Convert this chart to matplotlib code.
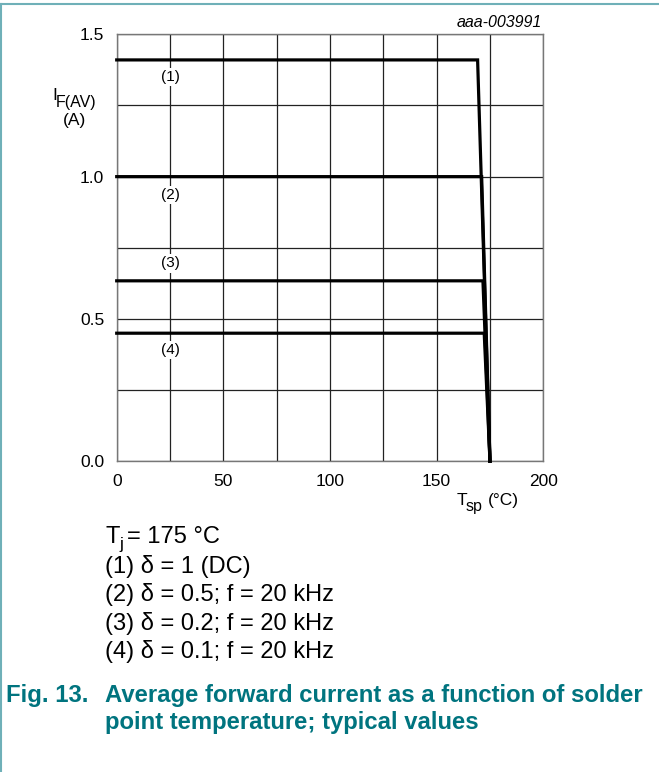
import matplotlib
matplotlib.use("Agg")
import matplotlib.pyplot as plt

# data
curve_ids = ["(1)", "(2)", "(3)", "(4)"]
plateau = [1.41, 1.0, 0.634, 0.45]          # I_F(AV) in A
knee_t = [169.2, 171.1, 171.7, 172.3]       # Tsp where the plateau ends
t_zero = 175.0                              # all curves reach 0 A here
label_y = [1.35, 0.935, 0.695, 0.391]
label_x = 25

xticks = [0, 50, 100, 150, 200]
yticks = [0.0, 0.5, 1.0, 1.5]
xgrid = [0, 25, 50, 75, 100, 125, 150, 175, 200]
ygrid = [0, 0.25, 0.5, 0.75, 1.0, 1.25, 1.5]

notes = ["(1) δ = 1 (DC)", "(2) δ = 0.5; f = 20 kHz",
         "(3) δ = 0.2; f = 20 kHz", "(4) δ = 0.1; f = 20 kHz"]

plt.rcParams['font.family'] = ['Liberation Sans', 'DejaVu Sans']

W, H = 659, 772
fig = plt.figure(figsize=(W / 100, H / 100), dpi=100)

def fx(px):
    return px / W

def fy(py):
    return 1 - py / H

ax = fig.add_axes([fx(116.7), fy(461.3), (543.3 - 116.7) / W, (461.3 - 34.3) / H])
ax.set_xlim(0, 200)
ax.set_ylim(0, 1.5)
for g in xgrid:
    ax.axvline(g, color="#222222", lw=0.9, zorder=1)
for g in ygrid:
    ax.axhline(g, color="#222222", lw=0.9, zorder=1)
for s in ax.spines.values():
    s.set_color("#777777")
    s.set_linewidth(1.0)

for i in range(len(plateau)):
    ax.plot([0, knee_t[i], t_zero], [plateau[i], plateau[i], 0],
            color="black", lw=2.3, zorder=3, solid_joinstyle="miter", clip_on=False)
    ax.text(label_x, label_y[i], curve_ids[i], ha="center", va="center", fontsize=11,
            zorder=4, bbox=dict(facecolor="white", edgecolor="none", pad=1.5))

ax.set_xticks(xticks)
ax.set_yticks(yticks)
ax.set_xticklabels([str(v) for v in xticks])
ax.set_yticklabels(["%.1f" % v for v in yticks])
ax.tick_params(length=0, labelsize=12.5)
ax.tick_params(axis="x", pad=9)
ax.tick_params(axis="y", pad=9)

# axis titles
fig.text(fx(52), fy(100), "I", fontsize=12.5, va="baseline", ha="left")
fig.text(fx(56), fy(107), "F(AV)", fontsize=11.5, va="baseline", ha="left")
fig.text(fx(74), fy(125), "(A)", fontsize=12.5, va="baseline", ha="center")
fig.text(fx(457), fy(505), "T", fontsize=12.5, va="baseline", ha="left")
fig.text(fx(466), fy(511), "sp", fontsize=11.5, va="baseline", ha="left")
fig.text(fx(488), fy(505), "(°C)", fontsize=12.5, va="baseline", ha="left")
fig.text(fx(542), fy(27), "aaa-003991", fontsize=11.5, style="italic", ha="right", va="baseline")

# conditions
fig.text(fx(105), fy(543), "T", fontsize=17, va="baseline")
fig.text(fx(119), fy(549), "j", fontsize=12.5, va="baseline")
fig.text(fx(127), fy(543), "= 175 °C", fontsize=17, va="baseline")
for i, line in enumerate(notes):
    fig.text(fx(105), fy(572.5 + 28.6 * i), line, fontsize=17, va="baseline")

teal = "#00747f"
fig.text(fx(6), fy(702), "Fig. 13.", fontsize=17.2, weight="bold", color=teal, va="baseline")
fig.text(fx(105), fy(702), "Average forward current as a function of solder",
         fontsize=17.2, weight="bold", color=teal, va="baseline")
fig.text(fx(105), fy(729), "point temperature; typical values",
         fontsize=17.2, weight="bold", color=teal, va="baseline")

# page frame lines
fig.add_artist(plt.Line2D([fx(0.8), fx(0.8)], [0, fy(3.5)], color="#6fb0b8", lw=1.5))
fig.add_artist(plt.Line2D([0, 1], [fy(3.5), fy(3.5)], color="#6fb0b8", lw=1.5))

fig.savefig("out.png", dpi=100)
